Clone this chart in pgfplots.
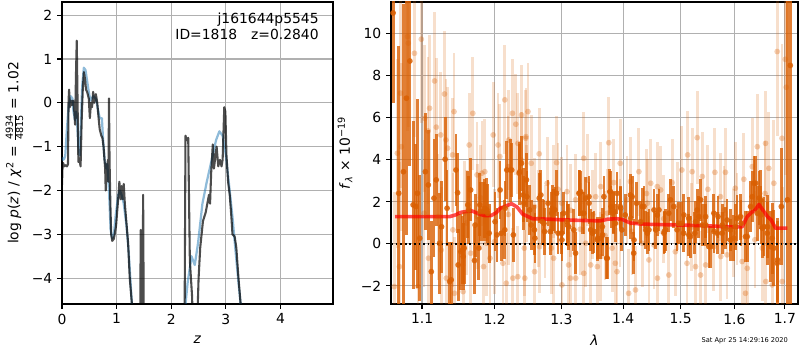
\documentclass[border=0pt]{standalone}
\usepackage{amsmath}
\usepackage{fontspec}
\setmainfont{DejaVu Sans}
\usepackage{pgfplots}
\usepackage{pgfplotstable}
\pgfplotsset{compat=1.18}
\definecolor{gridgray}{RGB}{176,176,176}
\definecolor{tabblue}{RGB}{31,119,180}
\definecolor{dorange}{RGB}{217,95,2}

\pgfplotstableread{
x y
0 -1.87
0.01 -1.45
0.02 -1.37
0.04 -1.45
0.07 -1.42
0.09 -1.45
0.11 -1.40
0.12 0.05
0.13 0.30
0.145 -0.10
0.16 0.05
0.18 -0.05
0.20 0.05
0.21 0.00
0.225 -0.20
0.24 -0.50
0.255 0.60
0.27 1.42
0.285 0.00
0.30 -1.35
0.32 -1.30
0.34 -1.45
0.36 -0.40
0.38 0.30
0.40 0.70
0.42 0.55
0.44 0.30
0.46 0.25
0.49 0.10
0.51 -0.35
0.53 0.00
0.55 -0.10
0.57 0.25
0.59 0.00
0.62 0.20
0.645 0.00
0.67 -0.35
0.69 -0.60
0.72 -0.75
0.74 -0.80
0.76 -1.00
0.79 -1.50
0.80 -2.00
0.815 -1.40
0.83 -1.50
0.84 -1.30
0.85 -1.80
0.86 0.10
0.87 -1.30
0.885 -2.30
0.90 -3.00
0.92 -3.15
0.95 -3.10
0.99 -2.80
1.04 -2.00
1.05 -1.80
1.075 -2.20
1.09 -1.90
1.11 -2.20
1.13 -1.85
1.15 -2.30
1.17 -2.60
1.21 -3.20
1.24 -4.00
1.28 -4.60
1.32 -6
1.40 -8
1.43 -6
1.44 -2.9
1.455 -6
1.47 -6
1.485 -2.1
1.50 -6
1.55 -10
2.20 -10
2.24 -6
2.26 -0.75
2.285 -0.85
2.31 -0.80
2.34 -3.60
2.38 -4.40
2.42 -6
2.45 -6
2.50 -4.0
2.53 -3.3
2.58 -2.7
2.63 -2.5
2.66 -2.3
2.69 -2.1
2.71 -2.3
2.73 -1.6
2.76 -0.95
2.78 -1.5
2.80 -1.3
2.83 -1.0
2.86 -1.45
2.89 -1.3
2.92 -1.45
2.94 -1.3
2.97 -0.1
2.99 -0.2
3.01 -1.2
3.04 -1.8
3.07 -2.1
3.10 -2.6
3.12 -3.0
3.16 -3.05
3.19 -3.3
3.23 -4.0
3.27 -4.6
3.30 -6
3.40 -10
4.96 -10
}\darkpz

\pgfplotstableread{
x y
0 -1.25
0.02 -1.30
0.04 -1.28
0.06 -1.20
0.09 -0.60
0.12 -0.10
0.16 0.15
0.19 0.10
0.21 -0.20
0.24 -0.40
0.255 -0.20
0.27 -0.30
0.30 -1.00
0.325 -1.20
0.35 -0.30
0.37 0.40
0.40 0.80
0.43 0.75
0.46 0.50
0.49 0.25
0.52 0.05
0.57 0.15
0.62 0.10
0.65 -0.10
0.69 -0.35
0.73 -0.35
0.75 -0.80
0.78 -1.30
0.81 -1.50
0.83 -1.40
0.86 -2.00
0.89 -2.90
0.92 -3.10
0.95 -3.00
0.98 -2.60
1.03 -2.10
1.06 -2.00
1.09 -2.10
1.13 -2.30
1.18 -2.80
1.22 -3.40
1.25 -4.00
1.28 -4.60
1.32 -6
1.40 -10
2.20 -10
2.24 -6
2.26 -4.6
2.30 -4.1
2.37 -3.5
2.43 -3.7
2.49 -3.2
2.57 -2.3
2.65 -1.8
2.74 -1.3
2.82 -0.85
2.88 -0.65
2.94 -0.75
3.00 -1.2
3.06 -1.9
3.12 -2.6
3.17 -3.3
3.23 -4.1
3.27 -4.6
3.30 -6
3.40 -10
}\bluepz

\pgfplotstableread{
x y e
1.0625 11.0 4.3
1.0697 2.41 7.0
1.0757 3.44 8.0
1.0796 6.94 6.5
1.0840 8.71 5.0
1.0883 1.86 4.0
1.0918 1.78 3.0
1.0939 2.41 4.5
1.0970 0.27 3.0
1.1044 3.44 2.8
1.1083 2.81 2.6
1.1123 -1.32 2.4
1.1159 2.18 2.8
1.1189 3.05 2.2
1.1234 0.03 2.4
1.1260 0.82 2.2
1.1309 4.03 2.0
1.1335 1.70 1.8
1.1371 -1.79 1.9
1.1392 -1.71 1.8
1.1457 3.52 1.7
1.1479 2.44 1.9
1.1487 -1.00 1.7
1.1524 -0.37 1.8
1.1546 -0.29 1.6
1.1556 -0.60 1.6
1.1570 -0.20 1.7
1.1620 1.86 1.6
1.1634 1.62 1.6
1.1660 2.57 1.5
1.1714 -0.79 1.6
1.1723 0.90 1.5
1.1775 -0.20 1.5
1.1789 1.86 1.5
1.1795 1.54 1.4
1.1843 1.54 1.4
1.1856 1.70 1.4
1.1889 1.62 1.5
1.1900 1.46 1.4
1.1922 0.51 1.4
1.2007 1.06 1.4
1.2034 0.43 1.3
1.2080 2.57 1.4
1.2099 0.51 1.3
1.2148 0.67 1.4
1.2152 1.70 1.3
1.2177 3.52 1.4
1.2229 3.52 1.5
1.2249 3.52 1.3
1.2273 0.43 1.3
1.2360 3.37 1.5
1.2369 3.44 1.3
1.2394 3.84 1.3
1.2418 2.33 1.3
1.2428 1.94 1.3
1.2467 3.05 1.3
1.2475 2.25 1.2
1.2515 1.62 1.2
1.2540 0.90 1.2
1.2587 0.67 1.2
1.2595 0.27 1.2
1.2660 2.18 1.2
1.2685 2.33 1.2
1.2708 1.06 1.1
1.2732 0.98 1.1
1.2740 0.59 1.1
1.2795 1.94 1.1
1.2829 0.59 1.1
1.2853 1.46 1.0
1.2860 1.70 1.1
1.2878 1.62 1.0
1.2902 1.62 1.1
1.2926 2.41 1.1
1.2950 0.51 1.0
1.3008 0.51 1.0
1.3010 0.19 1.0
1.3034 1.46 1.0
1.3089 1.06 1.0
1.3095 0.90 1.0
1.3115 0.82 1.1
1.3196 0.67 1.0
1.3224 -0.44 1.0
1.3277 2.41 1.1
1.3293 2.44 1.1
1.3305 2.49 1.0
1.3332 1.46 1.0
1.3358 1.46 1.0
1.3386 2.18 1.0
1.3439 2.25 1.0
1.3440 1.94 1.0
1.3467 0.67 1.0
1.3494 0.51 1.0
1.3521 0.59 1.0
1.3575 0.19 1.0
1.3580 0.27 1.0
1.3629 0.27 1.0
1.3656 0.82 0.9
1.3660 0.43 1.0
1.3682 2.25 1.0
1.3726 -0.68 1.0
1.3737 -0.68 1.0
1.3779 2.49 1.1
1.3791 2.49 1.0
1.3800 1.78 1.0
1.3834 1.46 1.0
1.3845 1.54 1.0
1.3871 0.98 0.9
1.3899 2.41 1.0
1.3953 1.78 1.0
1.3960 1.70 1.0
1.3980 0.67 1.0
1.4037 1.38 1.0
1.4124 2.33 1.0
1.4130 1.22 1.0
1.4153 2.25 1.0
1.4180 -0.44 1.0
1.4185 0.19 1.0
1.4228 1.94 1.0
1.4297 1.06 1.0
1.4327 1.78 0.9
1.4355 1.78 1.0
1.4385 0.67 0.9
1.4414 0.51 1.0
1.4442 0.67 1.0
1.4529 1.62 1.0
1.4559 0.67 0.9
1.4588 1.38 1.0
1.4616 1.62 1.0
1.4703 0.51 1.0
1.4710 0.59 1.0
1.4733 0.67 1.0
1.4790 1.46 0.9
1.4820 2.10 1.0
1.4877 1.78 1.0
1.4937 0.67 1.0
1.4963 0.98 1.0
1.5024 0.98 1.0
1.5054 0.51 0.9
1.5060 1.38 1.0
1.5147 1.22 1.0
1.5150 0.43 1.0
1.5178 0.35 1.0
1.5259 0.51 1.0
1.5272 1.06 1.0
1.5303 1.62 1.0
1.5333 1.30 1.0
1.5365 2.10 1.0
1.5396 0.90 1.0
1.5458 1.30 1.0
1.5460 0.90 1.0
1.5519 -0.13 1.0
1.5549 -0.13 1.0
1.5612 1.46 0.9
1.5615 0.59 1.0
1.5675 0.51 1.0
1.5690 1.30 1.0
1.5768 0.51 1.0
1.5770 0.90 1.0
1.5830 0.75 1.0
1.5861 1.14 1.0
1.5923 0.19 1.0
1.5925 0.67 1.0
1.5986 0.27 1.1
1.6018 0.82 1.1
1.6051 1.22 1.1
1.6117 1.30 1.1
1.6130 0.98 1.1
1.6216 0.35 1.2
1.6250 0.35 1.2
1.6315 1.78 1.2
1.6347 2.25 1.2
1.6380 2.89 1.3
1.6414 2.89 1.3
1.6447 1.46 1.3
1.6480 2.18 1.3
1.6513 2.10 1.4
1.6520 1.38 1.4
1.6546 0.75 1.4
1.6578 0.82 1.4
1.6645 0.51 1.5
1.6650 0.82 1.5
1.6711 -0.13 1.7
1.6743 0.27 1.7
1.6776 -0.20 1.8
1.6844 -0.92 2.0
1.6850 -0.76 2.0
1.6927 1.78 2.8
1.7054 2.10 12
1.7110 8.50 12
}\darkspec

\pgfplotstableread{
x y e
1.0640 -2.03 4.5
1.0680 4.32 4.5
1.0705 -1.08 5.0
1.0720 7.18 4.5
1.0730 4.63 4.0
1.0810 9.87 4.5
1.0820 9.56 4.0
1.0900 9.08 4.0
1.0947 -2.03 4.0
1.0990 9.75 4.0
1.1026 1.46 3.5
1.1035 5.98 3.5
1.1080 5.38 3.5
1.1085 -0.68 3.5
1.1100 6.46 3.5
1.1167 7.76 3.3
1.1190 5.56 3.3
1.1214 1.30 3.0
1.1250 5.19 3.0
1.1256 -0.29 3.0
1.1300 7.14 3.0
1.1320 4.95 2.9
1.1325 -1.63 2.9
1.1343 4.56 2.9
1.1410 4.24 2.7
1.1415 0.67 2.7
1.1430 6.30 2.8
1.1435 -2.35 2.7
1.1556 -2.27 2.7
1.1570 1.46 2.5
1.1600 1.00 2.5
1.1640 4.71 2.5
1.1660 -0.44 2.5
1.1690 6.22 2.7
1.1750 3.29 2.5
1.1754 1.30 2.5
1.1800 2.20 2.5
1.1820 3.37 2.5
1.1843 -1.08 2.5
1.1860 3.44 2.5
1.1889 0.03 2.5
1.1934 -0.68 2.5
1.1980 5.19 2.5
1.2000 0.11 2.5
1.2050 4.71 2.5
1.2075 4.16 2.5
1.2121 -0.92 2.5
1.2148 6.86 2.6
1.2169 -1.87 2.4
1.2196 3.68 2.4
1.2200 1.40 2.4
1.2206 4.95 2.4
1.2260 6.22 2.6
1.2266 -1.63 2.4
1.2310 5.70 2.4
1.2339 -1.56 2.4
1.2340 4.79 2.4
1.2389 4.00 2.3
1.2394 6.14 2.4
1.2436 -0.20 2.3
1.2443 -1.63 2.3
1.2457 5.03 2.3
1.2460 5.11 2.3
1.2467 2.41 2.3
1.2490 6.30 2.3
1.2539 3.84 2.3
1.2587 1.78 2.3
1.2590 -1.32 2.3
1.2650 1.20 2.3
1.2660 4.29 2.2
1.2665 -0.13 2.2
1.2750 0.60 2.2
1.2781 2.89 2.2
1.2846 -0.20 2.2
1.2878 2.49 2.2
1.2880 -0.68 2.2
1.2926 3.87 2.2
1.2950 2.60 2.2
1.3008 1.94 2.2
1.3010 -1.95 2.2
1.3089 2.49 2.2
1.3115 -1.00 2.2
1.3143 -1.63 2.2
1.3150 1.60 2.2
1.3224 2.10 2.2
1.3226 -1.63 2.2
1.3300 0.70 2.2
1.3354 4.08 2.2
1.3356 -1.40 2.2
1.3386 0.03 2.1
1.3413 3.05 2.2
1.3467 -1.00 2.2
1.3500 1.40 2.1
1.3548 2.25 2.1
1.3575 -1.08 2.1
1.3629 2.73 2.1
1.3632 -0.60 2.1
1.3700 0.40 2.1
1.3737 1.46 2.1
1.3763 4.82 2.2
1.3818 -0.20 2.1
1.3845 2.92 2.1
1.3871 -0.92 2.1
1.3899 -1.32 2.1
1.3950 1.00 2.1
1.3953 3.84 2.1
1.4066 2.10 2.1
1.4094 -2.35 2.1
1.4124 2.97 2.1
1.4150 0.60 2.1
1.4210 -2.19 2.1
1.4268 3.44 2.1
1.4327 0.03 2.1
1.4400 2.40 2.1
1.4414 1.94 2.1
1.4442 -0.76 2.1
1.4472 2.89 2.1
1.4529 -0.05 2.1
1.4588 2.73 2.1
1.4590 -1.63 2.1
1.4646 2.57 2.1
1.4700 1.20 2.1
1.4790 -1.48 2.1
1.4849 2.92 2.1
1.4907 -0.37 2.1
1.4950 1.80 2.1
1.5024 3.52 2.1
1.5117 -0.92 2.1
1.5128 4.24 2.1
1.5200 0.80 2.1
1.5210 3.44 2.1
1.5272 -1.08 2.1
1.5303 5.06 2.2
1.5365 -1.48 2.1
1.5396 3.21 2.1
1.5458 -1.00 2.1
1.5500 2.60 2.1
1.5612 -0.13 2.1
1.5631 3.41 2.1
1.5736 2.25 2.1
1.5740 -0.60 2.1
1.5800 1.60 2.1
1.5830 3.41 2.1
1.5861 -0.52 2.1
1.5986 0.51 2.1
1.6018 2.65 2.2
1.6050 1.20 2.2
1.6150 -0.84 2.2
1.6182 3.08 2.2
1.6216 -2.35 2.3
1.6250 -1.16 2.3
1.6347 3.68 2.3
1.6400 0.20 2.3
1.6447 4.63 2.5
1.6546 -0.20 2.5
1.6600 2.40 2.5
1.6611 4.79 2.5
1.6615 -1.79 2.5
1.6676 3.60 2.7
1.6743 -1.95 2.8
1.6776 2.89 3.0
1.6844 9.16 4.0
1.6942 5.03 4.5
1.6945 -1.79 4.5
1.7007 8.79 5.5
1.7027 7.46 5.5
}\lightspec

\pgfplotstableread{
x y
1.065 1.30
1.100 1.30
1.137 1.30
1.145 1.38
1.152 1.50
1.161 1.55
1.168 1.57
1.178 1.42
1.186 1.35
1.195 1.35
1.203 1.50
1.208 1.70
1.215 1.78
1.2245 1.92
1.233 1.75
1.241 1.42
1.256 1.20
1.280 1.18
1.300 1.15
1.330 1.12
1.362 1.10
1.375 1.18
1.390 1.20
1.400 1.15
1.412 1.00
1.430 0.95
1.450 0.93
1.500 0.90
1.550 0.86
1.600 0.80
1.615 0.82
1.625 1.30
1.633 1.50
1.640 1.60
1.648 1.88
1.656 1.60
1.665 1.30
1.672 1.15
1.681 0.75
1.705 0.75
}\model

\pgfplotsset{
  panel/.style={
    scale only axis,
    anchor=south west,
    height=217.44pt,
    axis line style={black, line width=0.8pt},
    grid=major,
    major grid style={gridgray, line width=0.8pt},
    tick align=outside,
    tick pos=left,
    major tick length=3.5pt,
    every tick/.style={black, line width=0.8pt},
    tick label style={font=\fontsize{10}{12}\selectfont},
    label style={font=\fontsize{10}{12}\selectfont},
  }
}

\begin{document}
\begin{tikzpicture}
\useasboundingbox (0,0) rectangle (576pt,252pt);

\begin{axis}[panel,
  at={(44.64pt,33.12pt)}, width=195.12pt,
  xmin=0, xmax=4.96, ymin=-4.59, ymax=2.3,
  xtick={0,1,2,3,4}, xticklabels={0,1,2,3,4},
  ytick={-4,-3,-2,-1,0,1,2},
  yticklabels={−4,−3,−2,−1,0,1,2},
  xlabel={\textit{z}},
  xlabel style={at={(axis description cs:0.5,-0.119)}, anchor=center},
  ylabel={log \textit{p}(\textit{z}) / \textit{χ}\textsuperscript{2} = $\frac{\text{4934}}{\text{4815}}$ = 1.02},
  ylabel style={at={(axis description cs:-0.175,0.5)}, anchor=center},
]
\addplot[tabblue, opacity=0.5, line width=1.6pt, line join=round] table[x=x,y=y]{\bluepz};
\addplot[black, opacity=0.7, line width=1.5pt, line join=round] table[x=x,y=y]{\darkpz};
\node[anchor=north east, align=right, inner sep=0pt, font=\fontsize{10}{12}\selectfont] at (rel axis cs:0.948,0.966) {j161644p5545\\ID=1818\quad z=0.2840};
\end{axis}

\begin{axis}[panel,
  at={(281.52pt,33.12pt)}, width=293.04pt,
  xmode=log, log basis x=10,
  xmin=1.0598, xmax=1.727, ymin=-2.86, ymax=11.52,
  xtick={1.1,1.2,1.3,1.4,1.5,1.6,1.7},
  xticklabels={1.1,1.2,1.3,1.4,1.5,1.6,1.7},
  minor xtick={},
  ytick={-2,0,2,4,6,8,10},
  yticklabels={−2,0,2,4,6,8,10},
  xlabel={\textit{λ}},
  xlabel style={at={(axis description cs:0.5,-0.119)}, anchor=center},
  ylabel={\textit{f}\textsubscript{\textit{λ}} × 10\textsuperscript{−19}},
  ylabel style={at={(axis description cs:-0.113,0.5)}, anchor=center},
]
\addplot[only marks, mark=*, mark size=2.1pt, color=dorange,
  mark options={draw opacity=0, fill=dorange, fill opacity=0.3},
  error bars/.cd, y dir=both, y explicit, error mark=none,
  error bar style={dorange, line width=2pt, opacity=0.2}]
  table[x=x, y=y, y error=e]{\lightspec};
\addplot[only marks, mark=*, mark size=2.1pt, color=dorange,
  mark options={draw opacity=0, fill=dorange, fill opacity=0.85},
  error bars/.cd, y dir=both, y explicit, error mark=none,
  error bar style={dorange, line width=2pt, opacity=0.8}]
  table[x=x, y=y, y error=e]{\darkspec};
\addplot[black, dotted, line width=1.3pt] coordinates {(1.0598,0) (1.727,0)};
\addplot[red, opacity=0.7, line width=2.6pt, line join=round] table[x=x,y=y]{\model};
\end{axis}

\node[anchor=base east, font=\fontsize{4.8}{5}\selectfont, inner sep=0pt] at (567.5pt,5.2pt) {Sat Apr 25 14:29:16 2020};
\end{tikzpicture}
\end{document}
